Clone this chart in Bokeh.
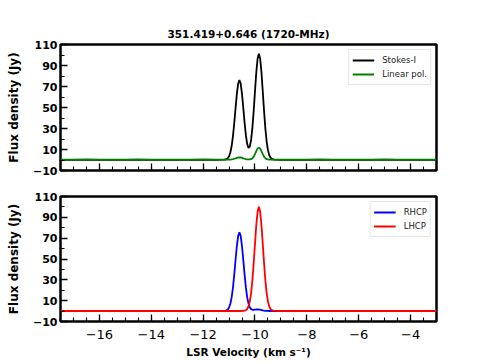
from bokeh.plotting import figure
from bokeh.layouts import column
from bokeh.models import FixedTicker, Range1d
from bokeh.embed import file_html
from bokeh.resources import INLINE

# ---------------- data ----------------
title_text = "351.419+0.646 (1720-MHz)"

velocity = [
    -17.5, -17.0, -16.5, -16.0, -15.5, -15.0, -14.5, -14.0, -13.5, -13.0, -12.5, -12.0, -11.5,
    -11.20, -11.15, -11.10, -11.05, -11.00, -10.95, -10.90, -10.85, -10.80, -10.75,
    -10.70, -10.65, -10.60, -10.55, -10.50, -10.45, -10.40, -10.35, -10.30, -10.25,
    -10.20, -10.15, -10.10, -10.05, -10.00, -9.95, -9.90, -9.85, -9.80, -9.75,
    -9.70, -9.65, -9.60, -9.55, -9.50, -9.45, -9.40, -9.35, -9.30, -9.25,
    -9.0, -8.5, -8.0, -7.5, -7.0, -6.5, -6.0, -5.5, -5.0, -4.5, -4.0, -3.5, -3.0,
]

stokes_i = [
    0.2, 0.1, 0.3, 0.2, 0.1, 0.2, 0.3, 0.1, 0.2, 0.2, 0.1, 0.3, 0.2,
    0.3, 0.4, 0.8, 1.7, 3.5, 7.1, 13.3, 22.6, 35.0, 49.2,
    62.7, 72.6, 76.2, 72.6, 62.7, 49.3, 35.3, 23.4, 15.2, 11.5,
    12.7, 19.1, 30.6, 46.7, 65.4, 83.3, 96.4, 101.2, 96.4, 83.3,
    65.3, 46.5, 30.0, 17.6, 9.4, 4.6, 2.1, 1.0, 0.5, 0.3,
    0.2, 0.1, 0.2, 0.3, 0.1, 0.2, 0.2, 0.1, 0.3, 0.2, 0.1, 0.2, 0.2,
]

linear_pol = [
    0.3, 0.3, 0.3, 0.3, 0.3, 0.3, 0.3, 0.3, 0.3, 0.3, 0.3, 0.3, 0.3,
    0.3, 0.3, 0.3, 0.4, 0.4, 0.45, 0.6, 0.85, 1.2, 1.6,
    2.1, 2.4, 2.5, 2.4, 2.1, 1.6, 1.2, 0.85, 0.6, 0.5,
    0.55, 0.8, 1.6, 3.2, 5.6, 8.4, 10.8, 11.8, 10.8, 8.4,
    5.6, 3.2, 1.6, 0.8, 0.5, 0.35, 0.3, 0.3, 0.3, 0.3,
    0.3, 0.3, 0.3, 0.3, 0.3, 0.3, 0.3, 0.3, 0.3, 0.3, 0.3, 0.3, 0.3,
]

rhcp = [
    0.1, 0.1, 0.1, 0.1, 0.1, 0.1, 0.1, 0.1, 0.1, 0.1, 0.1, 0.1, 0.1,
    0.15, 0.3, 0.65, 1.5, 3.4, 7.0, 13.1, 22.4, 34.7, 48.8,
    62.2, 72.0, 75.6, 72.0, 62.2, 48.8, 34.7, 22.5, 13.2, 7.1,
    3.6, 1.9, 1.3, 1.2, 1.4, 1.5, 1.6, 1.5, 1.3, 1.0,
    0.7, 0.45, 0.3, 0.2, 0.15, 0.1, 0.1, 0.1, 0.1, 0.1,
    0.1, 0.1, 0.1, 0.1, 0.1, 0.1, 0.1, 0.1, 0.1, 0.1, 0.1, 0.1, 0.1,
]

lhcp = [
    0.1, 0.1, 0.1, 0.1, 0.1, 0.1, 0.1, 0.1, 0.1, 0.1, 0.1, 0.1, 0.1,
    0.1, 0.1, 0.1, 0.1, 0.1, 0.1, 0.1, 0.1, 0.1, 0.1,
    0.1, 0.1, 0.1, 0.1, 0.13, 0.2, 0.37, 0.86, 2.0, 4.5,
    9.2, 17.3, 29.6, 45.9, 64.6, 82.4, 95.3, 100.1, 95.3, 82.4,
    64.6, 45.9, 29.6, 17.3, 9.2, 4.5, 2.0, 0.86, 0.37, 0.2,
    0.1, 0.1, 0.1, 0.1, 0.1, 0.1, 0.1, 0.1, 0.1, 0.1, 0.1, 0.1, 0.1,
]

x_ticks = [-16, -14, -12, -10, -8, -6, -4]
x_tick_labels = ["\u221216", "\u221214", "\u221212", "\u221210", "\u22128", "\u22126", "\u22124"]
y_ticks = [-10, 10, 30, 50, 70, 90, 110]
y_tick_labels = ["\u221210", "10", "30", "50", "70", "90", "110"]
y_minor_ticks = [0, 20, 40, 60, 80, 100]
x_minor_ticks = [-17.5 + 0.5 * k for k in range(30)]

FONT = "DejaVu Sans"


def make_fig(height, top, bottom, show_xlabels):
    p = figure(width=460, height=height,
               x_range=Range1d(-17.5, -3.0), y_range=Range1d(-10, 110),
               output_backend="svg", toolbar_location=None,
               min_border_left=60, min_border_right=24,
               min_border_top=top, min_border_bottom=bottom)
    p.grid.visible = False
    p.outline_line_color = "black"
    p.outline_line_width = 2.5
    p.outline_line_alpha = 1.0
    p.background_fill_color = "white"
    p.border_fill_color = "white"

    p.xaxis.ticker = FixedTicker(ticks=x_ticks, minor_ticks=x_minor_ticks)
    p.yaxis.ticker = FixedTicker(ticks=y_ticks, minor_ticks=y_minor_ticks)
    for ax in (p.xaxis, p.yaxis):
        ax.axis_line_color = None
        ax.major_tick_in = 7
        ax.major_tick_out = 0
        ax.minor_tick_in = 4
        ax.minor_tick_out = 0
        ax.major_tick_line_color = "black"
        ax.minor_tick_line_color = "black"
        ax.major_tick_line_width = 1.3
        ax.minor_tick_line_width = 1.1

    p.yaxis.major_label_overrides = dict(zip(y_ticks, y_tick_labels))
    p.yaxis.major_label_text_font = FONT
    p.yaxis.major_label_text_font_style = "bold"
    p.yaxis.major_label_text_font_size = "11px"
    p.yaxis.major_label_text_color = "black"
    p.yaxis.major_label_standoff = 3
    p.yaxis.axis_label = "Flux density (Jy)"
    p.yaxis.axis_label_text_font = FONT
    p.yaxis.axis_label_text_font_style = "bold"
    p.yaxis.axis_label_text_font_size = "12px"
    p.yaxis.axis_label_text_color = "black"
    p.yaxis.axis_label_standoff = 9

    if show_xlabels:
        p.xaxis.major_label_overrides = dict(zip(x_ticks, x_tick_labels))
        p.xaxis.major_label_text_font = FONT
        p.xaxis.major_label_text_font_style = "normal"
        p.xaxis.major_label_text_font_size = "13px"
        p.xaxis.major_label_text_color = "black"
        p.xaxis.major_label_standoff = 8
        p.xaxis.axis_label = "LSR Velocity (km s\u207b\u00b9)"
        p.xaxis.axis_label_text_font = FONT
        p.xaxis.axis_label_text_font_style = "bold"
        p.xaxis.axis_label_text_font_size = "10.5px"
        p.xaxis.axis_label_text_color = "black"
        p.xaxis.axis_label_standoff = 4
    else:
        p.xaxis.major_label_overrides = {t: "" for t in x_ticks}
        p.xaxis.major_label_text_font_size = "1px"
        p.xaxis.major_label_standoff = 0
    return p


def style_legend(p):
    lg = p.legend[0]
    lg.location = "top_right"
    lg.margin = 5
    lg.padding = 3
    lg.spacing = 0
    lg.label_standoff = 8
    lg.glyph_width = 22
    lg.glyph_height = 14
    lg.label_height = 14
    lg.label_text_font = FONT
    lg.label_text_font_size = "8.5px"
    lg.label_text_color = "#222222"
    lg.border_line_color = "#cccccc"
    lg.border_line_width = 1
    lg.background_fill_alpha = 0.8


p1 = make_fig(height=183, top=44, bottom=13, show_xlabels=False)
p1.title.text = title_text
p1.title.align = "center"
p1.title.text_font = FONT
p1.title.text_font_style = "bold"
p1.title.text_font_size = "10.5px"
p1.title.text_color = "black"
p1.title.standoff = 9
p1.line(velocity, stokes_i, line_color="black", line_width=1.8, legend_label="Stokes-I")
p1.line(velocity, linear_pol, line_color="green", line_width=1.8, legend_label="Linear pol.")
style_legend(p1)

p2 = make_fig(height=177, top=13, bottom=37, show_xlabels=True)
p2.line(velocity, rhcp, line_color="blue", line_width=1.8, legend_label="RHCP")
p2.line(velocity, lhcp, line_color="red", line_width=1.8, legend_label="LHCP")
style_legend(p2)

layout = column(p1, p2, spacing=0)
open("out.html", "w").write(file_html(layout, INLINE))
